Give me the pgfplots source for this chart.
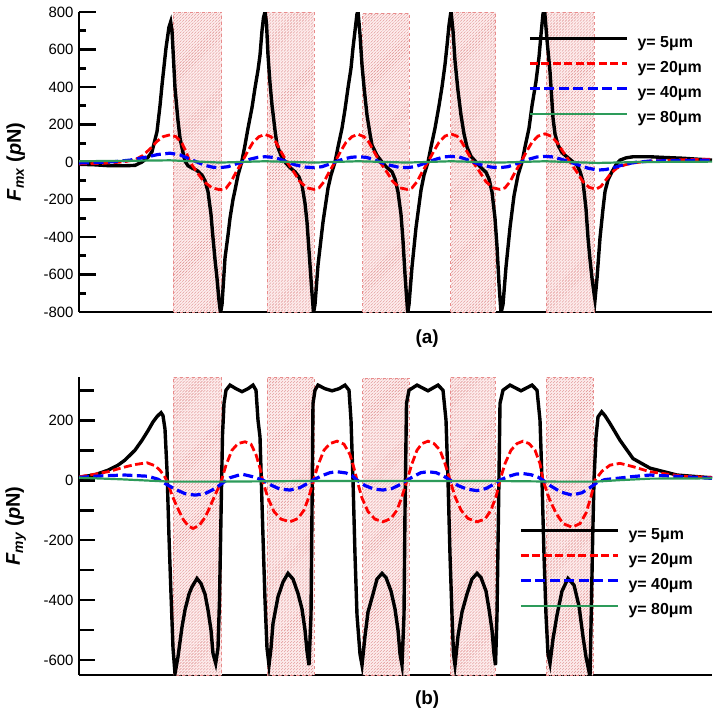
\documentclass[border=0pt]{standalone}
\usepackage{fontspec}
\setmainfont{Liberation Sans}
\usepackage{pgfplots}
\pgfplotsset{compat=1.18}
\usetikzlibrary{patterns}
\definecolor{hatchfill}{RGB}{253,236,236}
\definecolor{hatchline}{RGB}{222,140,140}
\definecolor{hatchedge}{RGB}{232,140,140}
\definecolor{mygreen}{RGB}{45,155,90}
\pgfplotsset{
  panel/.style={
    scale only axis, width=633bp,
    xmin=79, xmax=712, xtick=\empty,
    axis lines*=left,
    axis line style={line width=2.8bp},
    tick align=inside, tick style={line width=2.8bp, black},
    major tick length=17bp,
    /pgf/number format/assume math mode=true,
    yticklabel style={font=\fontsize{15}{15}\selectfont, xshift=-2bp},
    ylabel style={at={(axis description cs:-0.1,0.5)}, anchor=center, font=\fontsize{20}{20}\selectfont},
    xlabel style={anchor=center, font=\bfseries\fontsize{19}{19}\selectfont},
    legend cell align=left,
    legend image code/.code={\draw[##1] (0bp,5bp) -- (97bp,5bp);},
    legend style={draw=none, fill=none, inner sep=0pt, row sep=12bp, column sep=9bp,
      font=\bfseries\fontsize{16}{16}\selectfont,
      nodes={inner sep=0pt, text height=10.5bp, text depth=2.5bp}},
  },
  rect/.style={draw=hatchedge, line width=0.7bp, dashed, fill=hatchfill,
    postaction={pattern=north east lines, pattern color=hatchline}, forget plot},
  s5/.style={black, line width=3.4bp, solid},
  s20/.style={red, line width=2.8bp, dash pattern=on 8bp off 3.5bp},
  s40/.style={blue, line width=3.2bp, dash pattern=on 10bp off 4.5bp},
  s80/.style={mygreen, line width=2.2bp, solid},
}
\begin{document}
\begin{tikzpicture}
\path[use as bounding box] (0,0) rectangle (714bp,-718bp);
% ---------------- (a) ----------------
\begin{axis}[panel, height=300bp, at={(79bp,-312bp)}, anchor=south west,
  ymin=-800, ymax=800,
  ytick={-800,-600,...,800}, minor ytick={-700,-500,...,700}, minor tick length=7bp,
  ylabel={\textbf{\textit{F}\textsubscript{\textit{mx}} (\textit{p}N)}},
  xlabel={(a)}, xlabel style={at={(axis description cs:0.55,-0.087)}},
  legend style={at={(axis cs:528,668)}, anchor=north west},
]
\addplot[rect] coordinates {(173.3,-800) (173.3,800) (221.7,800) (221.7,-800)} -- cycle;
\addplot[rect] coordinates {(267.3,-800) (267.3,800) (314,800) (314,-800)} -- cycle;
\addplot[rect] coordinates {(362.7,-800) (362.7,793) (409.3,793) (409.3,-800)} -- cycle;
\addplot[rect] coordinates {(450.7,-800) (450.7,800) (495.7,800) (495.7,-800)} -- cycle;
\addplot[rect] coordinates {(546,-800) (546,800) (594.3,800) (594.3,-800)} -- cycle;

\addplot[s5] coordinates {
(79,-12) (95,-15) (110,-20) (125,-20) (135,-18) (142,0) (148,25) (152,55) (157,162) (160,300) (162,410) (166,608) (169,720) (170.7,748) (172,700) (175,395) (178,220) (180,128) (183,50) (185,5) (188,-20) (192,-32) (197,-45) (202,-70) (205,-100) (208,-158) (211,-280) (213,-405) (215,-520) (217,-620) (219,-740) (220.5,-805) (222,-760) (225,-512) (228,-390) (230,-300) (233,-200) (235,-150) (238,-70) (241.7,0) (245,90) (248,180) (252,290) (255,395) (258,490) (260,570) (262,700) (263.5,770) (265,800) (266.5,740) (268,570) (270,420) (272,304) (275,170) (277,91) (281,35) (285,0) (290,-30) (295,-52) (299,-80) (302,-123) (305,-220) (307,-320) (310,-550) (312,-700) (313.5,-805) (315,-760) (318,-550) (323,-320) (328,-140) (331,-70) (335,0) (338,80) (342,180) (345,280) (348,395) (351,500) (353,608) (355,700) (357,790) (358,805) (360,680) (362,517) (364,400) (367,250) (370,150) (372,90) (377,35) (382,0) (387,-30) (392,-52) (395,-90) (398,-160) (401,-280) (403,-420) (405,-600) (407.7,-805) (409,-760) (412,-560) (416,-350) (421,-150) (424,-70) (428,0) (431,80) (435,180) (439,300) (442,400) (445,520) (447,620) (449,730) (451,805) (453,700) (455,540) (458,380) (461,250) (464,150) (467,80) (471,30) (476,0) (481,-30) (486,-55) (489,-90) (492,-160) (495,-300) (497,-450) (499,-650) (501,-805) (503,-760) (506,-560) (510,-350) (514,-180) (518,-70) (522,0) (525,80) (529,180) (532,300) (536,430) (539,560) (541,680) (543,790) (544.5,815) (547,650) (550,482) (553,235) (555,150) (558,90) (562,50) (567,27) (572,5) (577,-16) (580,-50) (583,-105) (586,-250) (588,-405) (590,-520) (592,-620) (594,-700) (595,-736) (597,-620) (600,-405) (603,-250) (605,-158) (608,-95) (612,-52) (616,-15) (620,10) (626,22) (633,28) (650,28) (665,24) (683,20) (712,10)};
\addlegendentry{y= 5μm}
\addplot[s20] coordinates {
(79,-10) (100,-8) (115,-3) (125,2) (135,12) (143,35) (150,70) (157,110) (163,135) (170,145) (176,135) (182,100) (186,55) (190,0) (197,-55) (204,-105) (212,-138) (220,-148) (226,-140) (231,-105) (236,-55) (242,0) (248,60) (253,105) (259,135) (265,147) (271,135) (276,105) (281,55) (287,0) (294,-55) (300,-105) (307,-138) (314,-146) (319,-138) (324,-105) (329,-55) (335,0) (341,60) (346,105) (352,135) (358,148) (364,135) (369,105) (374,55) (380,0) (387,-55) (393,-105) (400,-138) (407,-146) (412,-138) (417,-105) (422,-55) (428,0) (434,60) (439,105) (445,138) (451,150) (457,138) (462,105) (467,55) (473,0) (480,-55) (486,-105) (493,-138) (500,-146) (505,-138) (510,-105) (515,-55) (521,0) (527,60) (532,105) (538,138) (545,150) (551,138) (557,105) (563,55) (570,0) (577,-55) (583,-105) (589,-135) (596,-145) (601,-130) (606,-95) (611,-60) (617,-32) (625,-15) (633,-5) (650,5) (680,12) (712,15)};
\addlegendentry{y= 20μm}
\addplot[s40] coordinates {
(79,-5) (100,-2) (115,2) (130,10) (145,25) (158,40) (170,47) (180,38) (190,15) (197,0) (205,-18) (213,-28) (220,-30) (228,-25) (235,-12) (242,0) (250,15) (258,25) (265,28) (273,25) (280,15) (287,0) (295,-15) (305,-27) (314,-30) (322,-25) (329,-12) (335,0) (343,15) (351,25) (358,28) (366,25) (373,15) (380,0) (388,-15) (398,-27) (407,-30) (415,-25) (422,-12) (428,0) (436,15) (444,27) (451,30) (459,27) (466,15) (473,0) (481,-15) (491,-27) (500,-30) (508,-25) (515,-12) (521,0) (529,15) (537,27) (545,30) (553,27) (561,15) (570,0) (578,-15) (588,-33) (598,-43) (606,-40) (615,-28) (625,-12) (635,-2) (650,5) (680,8) (712,10)};
\addlegendentry{y= 40μm}
\addplot[s80] coordinates {
(79,4) (120,6) (170,9) (220,-3) (265,4) (314,-3) (358,4) (407,-3) (451,4) (500,-3) (545,4) (598,-5) (640,0) (712,2)};
\addlegendentry{y= 80μm}
\end{axis}
% ---------------- (b) ----------------
\begin{axis}[panel, height=298bp, at={(79bp,-675bp)}, anchor=south west,
  ymin=-650, ymax=344,
  ytick={-600,-400,...,200}, minor ytick={-500,-300,...,300}, minor tick length=15bp, major tick length=16bp,
  ylabel={\textbf{\textit{F}\textsubscript{\textit{my}} (\textit{p}N)}},
  xlabel={(b)}, xlabel style={at={(axis description cs:0.55,-0.084)}},
  legend style={at={(axis cs:519,-162)}, anchor=north west},
]
\addplot[rect] coordinates {(173.3,-650) (173.3,344) (221.7,344) (221.7,-650)} -- cycle;
\addplot[rect] coordinates {(267.3,-650) (267.3,344) (314,344) (314,-650)} -- cycle;
\addplot[rect] coordinates {(362.7,-650) (362.7,340) (409.3,340) (409.3,-650)} -- cycle;
\addplot[rect] coordinates {(450,-650) (450,344) (495,344) (495,-650)} -- cycle;
\addplot[rect] coordinates {(546,-650) (546,344) (593.3,344) (593.3,-650)} -- cycle;

\addplot[s5] coordinates {
(79,9) (95,18) (108,33) (118,50) (125,67) (135,100) (142,133) (148,165) (153,194) (157,212) (161,225) (163,215) (165,170) (167,33) (169,-189) (171,-380) (173,-560) (175,-645) (178,-589) (182,-490) (185,-433) (189,-380) (192,-356) (197,-328) (201,-345) (205,-380) (208,-433) (211,-500) (213,-578) (215.7,-611) (218,-560) (219.5,-400) (221,-120) (222.5,150) (224,256) (226,300) (230,317) (236,305) (242,295) (248,305) (253,317) (256,300) (258,200) (260,144) (263,-189) (265,-400) (267,-560) (269,-617) (271,-560) (273,-478) (278,-389) (283,-340) (288,-311) (293,-330) (298,-378) (302,-430) (305,-500) (307,-570) (309,-617) (311,-450) (312,-100) (313,256) (315,300) (318,317) (325,305) (332,298) (339,305) (345,317) (349,300) (351,200) (353,0) (355,-250) (357,-450) (360,-580) (362,-617) (365,-520) (368,-440) (373,-380) (377,-330) (382,-311) (386,-325) (391,-370) (395,-430) (398,-500) (400,-580) (402,-617) (404,-450) (405,-100) (406.5,256) (409,300) (417,317) (428,298) (438,317) (443,300) (446,200) (448,0) (450,-250) (452,-450) (453.5,-580) (455,-617) (458,-520) (462,-440) (467,-380) (472,-330) (477,-311) (481,-325) (486,-370) (489,-430) (492,-500) (494,-580) (495.5,-617) (497,-450) (498.5,-100) (500,256) (503,300) (510,317) (521,298) (532,317) (537,300) (540,200) (542,0) (544,-250) (546,-450) (548,-580) (550,-611) (553,-530) (557,-450) (562,-370) (568,-328) (574,-350) (579,-420) (583,-522) (586,-590) (588.5,-630) (590,-655) (591.5,-400) (592.7,-189) (594,0) (596,144) (598,211) (601.7,228) (605,215) (610,189) (620,133) (633,72) (650,40) (677,17) (707,9) (712,8)};
\addlegendentry{y= 5μm}
\addplot[s20] coordinates {
(79,11) (95,20) (108,28) (125,44) (135,52) (147,58) (155,48) (160,33) (165,10) (168,-11) (172,-50) (177,-89) (183,-130) (188,-152) (193,-161) (199,-152) (205,-125) (210,-89) (215,-50) (220.7,-9) (226,50) (232,100) (238,122) (245,128) (251,120) (256,85) (260,40) (263,-6) (268,-60) (274,-105) (281,-130) (290,-139) (298,-128) (304,-100) (309,-55) (313,-6) (318,50) (324,100) (330,122) (337,130) (344,120) (350,85) (354,40) (357,0) (362,-60) (368,-105) (375,-130) (383,-139) (391,-128) (397,-100) (402,-55) (407,0) (412,55) (417,100) (422,122) (428,130) (434,122) (440,100) (445,55) (450,0) (455,-55) (461,-100) (468,-128) (477,-139) (485,-130) (491,-100) (496,-55) (500,0) (505,55) (511,100) (517,122) (523,130) (529,122) (535,100) (540,55) (543,0) (549,-60) (556,-110) (563,-145) (572,-157) (580,-145) (586,-110) (591,-55) (595,0) (602,30) (610,50) (620,56) (633,45) (650,28) (683,13) (712,9)};
\addlegendentry{y= 20μm}
\addplot[s40] coordinates {
(79,9) (100,14) (125,17) (148,13) (158,3) (165,-11) (175,-30) (185,-45) (195,-50) (205,-45) (214,-30) (222,-11) (230,8) (242,20) (252,12) (263,0) (272,-18) (280,-30) (290,-33) (300,-25) (307,-12) (313,0) (322,15) (330,25) (337,28) (346,24) (352,15) (357,0) (365,-18) (374,-30) (383,-33) (392,-28) (400,-15) (407,0) (415,15) (421,25) (428,28) (436,25) (443,15) (450,0) (458,-18) (467,-30) (477,-35) (486,-28) (493,-15) (500,0) (508,12) (516,20) (523,22) (531,18) (538,10) (543,0) (551,-20) (561,-40) (572,-50) (582,-42) (590,-25) (597,-8) (605,2) (617,6) (633,12) (650,17) (680,12) (712,6)};
\addlegendentry{y= 40μm}
\addplot[s80] coordinates {
(79,8) (120,3) (170,-5) (220,-5) (300,-3) (400,-3) (500,-3) (560,-5) (595,-5) (620,0) (650,5) (712,6)};
\addlegendentry{y= 80μm}
\end{axis}
\end{tikzpicture}
\end{document}
